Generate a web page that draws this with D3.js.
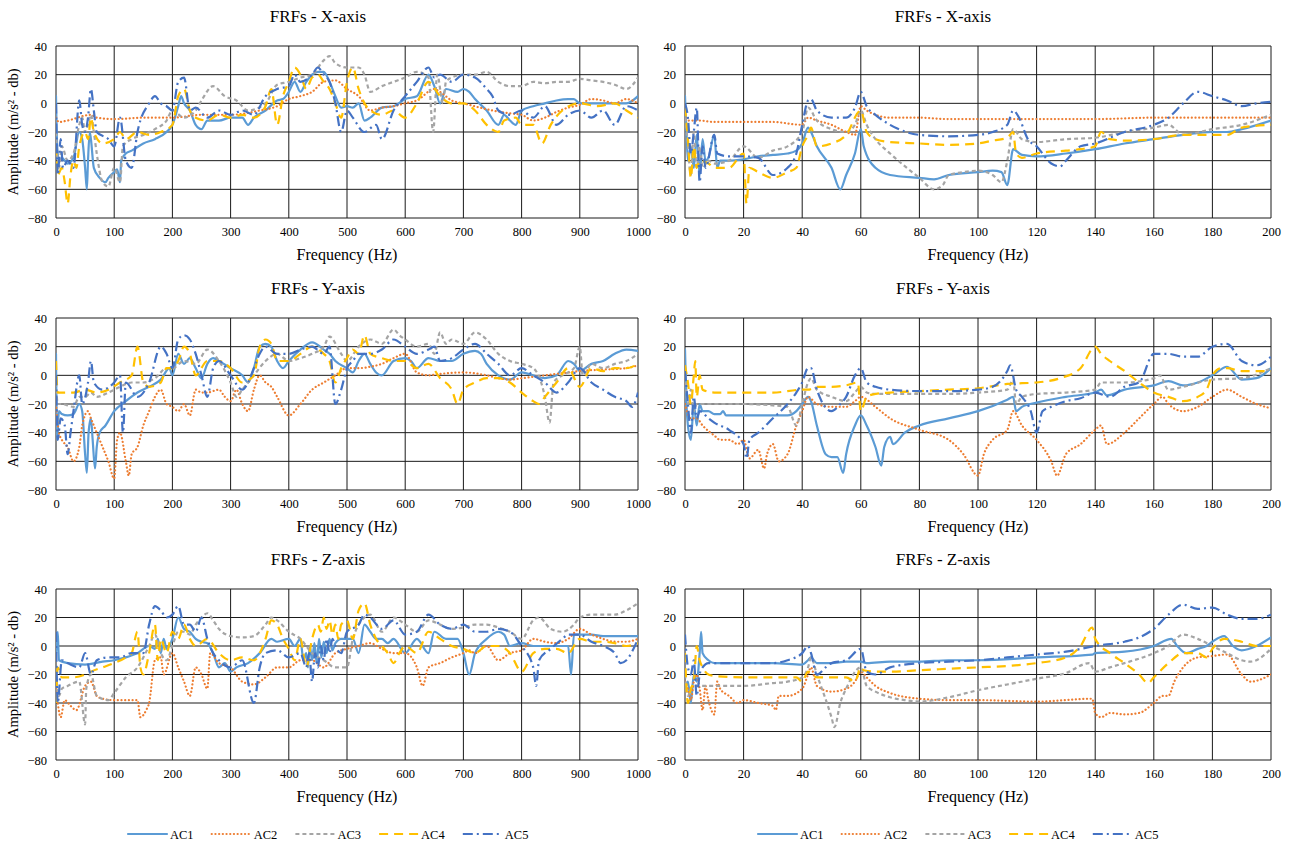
<!DOCTYPE html>
<html><head><meta charset="utf-8">
<script src="https://cdn.jsdelivr.net/npm/d3@7"></script>
<style>body{margin:0;background:#fff}svg{display:block}text{font-family:"Liberation Serif","Times New Roman",serif;fill:#000}</style>
</head><body><svg id="c" width="1291" height="845"></svg>
<script>
const seriesNames = ["AC1","AC2","AC3","AC4","AC5"];
const panelTitles = ["FRFs - X-axis","FRFs - X-axis","FRFs - Y-axis","FRFs - Y-axis","FRFs - Z-axis","FRFs - Z-axis"];
const yTicks = [-80,-60,-40,-20,0,20,40];
const xTicksFull = [0,100,200,300,400,500,600,700,800,900,1000];
const xTicksLow = [0,20,40,60,80,100,120,140,160,180,200];

// ---- X-axis, 0-1000 Hz ----
const xFull_AC1 = [[0,5],[2,-30],[5,-40],[10,-38],[20,-42],[30,-38],[40,-20],[45,-25],[50,-45],[53,-60],[55,-40],[58,-20],[60,-25],[65,-45],[75,-52],[85,-55],[90,-52],[100,-48],[105,-46],[110,-55],[112,-40],[120,-35],[130,-33],[150,-28],[170,-25],[190,-20],[200,-15],[210,-2],[215,5],[220,0],[230,-5],[240,-15],[250,-18],[260,-12],[280,-12],[300,-10],[320,-10],[330,-15],[340,-10],[360,-5],[380,2],[390,3],[400,8],[410,15],[420,8],[430,15],[440,20],[450,22],[460,22],[470,15],[480,5],[490,-3],[500,-2],[510,-3],[520,0],[530,-12],[540,-10],[560,-3],[580,-2],[600,3],[620,5],[640,20],[650,12],[660,0],[670,10],[690,8],[700,10],[710,8],[720,3],[740,-5],[760,-15],[770,-8],[780,-12],[790,-15],[800,-5],[820,-2],[840,0],[860,2],[880,3],[890,3],[900,0],[920,0],[940,0],[960,0],[980,0],[1000,5]];
const xFull_AC2 = [[0,-10],[5,-13],[20,-12],[60,-8],[70,-10],[100,-11],[150,-10],[200,-10],[250,-8],[300,-8],[350,-5],[380,-2],[400,3],[420,5],[440,8],[460,15],[480,16],[500,10],[520,5],[540,-5],[560,-3],[580,-2],[600,0],[620,2],[650,10],[660,8],[680,2],[700,0],[750,-5],[780,-7],[800,-8],[820,-12],[840,-10],[860,-6],[880,-3],[900,-1],[920,3],[940,2],[960,0],[980,3],[1000,0]];
const xFull_AC3 = [[0,-20],[5,-45],[10,-30],[20,-40],[30,-35],[40,-15],[45,-10],[50,-20],[55,-15],[60,-8],[65,-20],[70,-35],[80,-55],[90,-58],[100,-45],[110,-55],[115,-30],[130,-25],[150,-22],[170,-18],[190,-12],[200,-5],[220,-10],[240,-5],[250,2],[270,12],[290,5],[310,2],[330,-5],[360,0],[380,13],[400,15],[420,18],[440,20],[460,30],[470,33],[480,28],[500,25],[520,25],[530,20],[540,8],[560,12],[580,15],[600,18],[620,22],[640,18],[648,-20],[655,20],[665,0],[670,15],[680,18],[700,20],[720,20],[740,22],[760,15],[780,12],[800,12],[820,15],[840,14],[860,15],[880,15],[900,17],[920,16],[940,15],[960,13],[980,10],[1000,18]];
const xFull_AC4 = [[0,-30],[3,-50],[10,-45],[15,-55],[20,-70],[25,-50],[30,-40],[35,-45],[40,-30],[50,-20],[55,-25],[60,-10],[65,-20],[80,-28],[100,-25],[110,-20],[120,-25],[140,-20],[160,-22],[180,-20],[200,-15],[210,5],[220,10],[230,-5],[240,-10],[260,-12],[280,-8],[300,-10],[320,-8],[340,-10],[360,-2],[370,10],[380,-15],[390,5],[400,15],[410,25],[420,20],[430,10],[440,18],[450,20],[460,15],[470,10],[480,0],[490,-10],[500,15],[510,25],[520,10],[540,-5],[560,-8],[580,-5],[600,-10],[620,0],[640,15],[660,5],[680,0],[700,0],[720,-5],[740,-15],[760,-20],[770,-12],[790,-10],[800,-15],[820,-15],[835,-28],[850,-15],[870,-5],[900,0],[930,-2],[960,0],[980,-5],[1000,-10]];
const xFull_AC5 = [[0,0],[3,-50],[8,-25],[12,-45],[20,-40],[30,-45],[40,2],[45,-15],[50,-20],[55,-10],[60,10],[65,-5],[70,-20],[90,-25],[100,-30],[110,-10],[120,-40],[130,-45],[140,-20],[160,0],[170,5],[180,0],[190,-2],[200,-5],[210,15],[220,18],[230,-5],[240,-3],[260,-10],[280,-5],[300,-8],[320,-5],[340,-8],[360,5],[380,10],[400,12],[410,20],[420,15],[440,20],[450,25],[460,20],[470,15],[480,0],[490,-20],[500,-5],[510,-10],[530,-20],[550,-15],[560,-25],[580,-5],[600,5],[620,15],[640,25],[650,18],[660,20],[680,15],[700,20],[720,18],[740,10],[750,5],[760,-5],[780,-8],[800,-5],[820,-10],[840,-2],[860,-15],[880,-8],[900,-5],[920,-10],[940,-5],[960,-15],[980,-2],[1000,-5]];

// ---- X-axis, 0-200 Hz ----
const xLow_AC1 = [[0,5],[0.5,-20],[1,-40],[2,-30],[3,-45],[4,-22],[5,-50],[6,-25],[7,-40],[8,-38],[10,-22],[11,-45],[12,-40],[15,-40],[20,-39],[25,-37],[30,-36],[35,-35],[38,-33],[40,-28],[42,-17],[43,-20],[45,-30],[50,-45],[53,-60],[55,-50],[58,-35],[60,-18],[61,-30],[65,-45],[70,-50],[80,-52],[85,-53],[90,-50],[100,-48],[105,-47],[108,-48],[110,-57],[112,-32],[115,-36],[120,-37],[130,-35],[140,-32],[150,-28],[160,-25],[170,-22],[180,-20],[185,-20],[190,-18],[200,-12]];
const xLow_AC2 = [[0,-8],[1,-12],[5,-12],[10,-13],[15,-13],[20,-13],[30,-13],[40,-15],[42,-10],[45,-12],[50,-15],[55,-20],[58,-22],[60,-2],[62,-5],[65,-8],[70,-10],[80,-10],[90,-11],[100,-11],[110,-11],[120,-11],[140,-11],[160,-10],[180,-10],[200,-10]];
const xLow_AC3 = [[0,-5],[1,-30],[2,-50],[3,-20],[4,-45],[5,-30],[6,-45],[8,-40],[10,-42],[15,-40],[20,-30],[25,-38],[30,-33],[35,-30],[40,-20],[42,-3],[45,-12],[50,-18],[55,-20],[58,-15],[60,-5],[62,-15],[65,-25],[70,-35],[80,-52],[85,-60],[88,-57],[90,-50],[95,-48],[100,-47],[105,-50],[108,-55],[110,-40],[112,-18],[115,-25],[120,-27],[130,-25],[140,-24],[150,-20],[160,-17],[165,-15],[170,-22],[180,-18],[190,-15],[200,-8]];
const xLow_AC4 = [[0,-3],[1,-25],[2,-52],[3,-30],[4,-45],[5,-40],[8,-42],[10,-45],[15,-45],[20,-35],[21,-70],[22,-45],[25,-48],[30,-52],[35,-48],[38,-45],[40,-30],[42,-22],[43,-17],[45,-30],[50,-28],[55,-22],[60,-5],[62,-20],[65,-25],[70,-27],[80,-28],[90,-29],[100,-28],[105,-26],[110,-24],[112,-20],[113,-35],[115,-38],[120,-35],[130,-33],[135,-32],[140,-30],[142,-20],[145,-25],[150,-26],[160,-25],[170,-22],[180,-22],[185,-22],[190,-17],[200,-15]];
const xLow_AC5 = [[0,0],[1,-10],[2,-35],[3,-20],[4,-3],[5,-55],[6,-30],[7,-45],[10,-22],[11,-35],[15,-37],[20,-37],[25,-38],[30,-50],[35,-45],[38,-35],[40,-15],[42,2],[43,3],[45,-5],[50,-10],[55,-10],[58,-3],[60,8],[62,-2],[65,-8],[70,-15],[80,-22],[90,-23],[100,-22],[105,-20],[110,-15],[112,-5],[114,-10],[117,-25],[120,-30],[125,-42],[128,-44],[130,-40],[135,-30],[140,-28],[150,-20],[160,-15],[165,-10],[170,0],[175,8],[180,5],[185,2],[190,-2],[195,0],[200,1]];

// ---- Y-axis, 0-1000 Hz ----
const yFull_AC1 = [[0,15],[2,-45],[5,-25],[10,-27],[20,-28],[30,-27],[40,-20],[45,-25],[50,-55],[53,-68],[56,-40],[60,-30],[63,-45],[67,-65],[70,-50],[75,-40],[85,-35],[100,-25],[120,-18],[140,-12],[160,-8],[180,-3],[195,5],[200,0],[210,15],[220,8],[230,12],[240,5],[250,-2],[260,8],[270,12],[280,10],[300,5],[320,0],[330,-5],[340,5],[350,20],[360,22],[370,20],[380,10],[390,5],[400,10],[420,18],[440,23],[460,18],[470,15],[480,10],[500,5],[510,2],[520,10],[530,15],[540,8],[550,2],[560,0],[580,10],[600,12],[610,10],[620,5],[640,12],[660,10],[680,10],[700,15],[720,17],[730,15],[740,8],[760,0],[780,-3],[800,2],[820,0],[840,-2],[860,0],[880,10],[890,8],[900,3],[920,8],[940,10],[960,15],[980,18],[1000,17]];
const yFull_AC2 = [[0,-20],[5,-40],[10,-45],[20,-50],[30,-60],[40,-50],[45,-35],[55,-25],[60,-30],[70,-40],[80,-50],[90,-60],[100,-72],[105,-45],[110,-40],[120,-60],[125,-70],[130,-55],[140,-50],[150,-35],[160,-25],[170,-15],[180,-10],[190,-20],[200,-22],[210,-25],[220,-20],[230,-28],[240,-10],[250,-12],[260,-12],[280,-10],[290,-15],[300,-18],[310,-10],[320,-20],[330,-25],[340,-10],[350,0],[360,-5],[370,-8],[380,-15],[400,-28],[420,-20],[440,-10],[460,-5],[480,0],[500,5],[520,5],[540,6],[560,8],[580,12],[600,15],[620,2],[640,0],[660,1],[700,2],[740,0],[760,-2],[780,-3],[800,-2],[840,0],[880,2],[900,3],[940,4],[980,5],[1000,7]];
const yFull_AC3 = [[0,-5],[3,-20],[10,-20],[30,-22],[40,-15],[50,-15],[60,-12],[70,-15],[90,-12],[110,-8],[130,-5],[150,-5],[170,-2],[190,5],[200,5],[220,10],[240,8],[260,18],[280,10],[300,-5],[310,-15],[320,-10],[340,0],[360,10],[380,15],[400,10],[420,12],[440,15],[460,20],[470,27],[490,15],[500,10],[520,20],[540,25],[560,22],[580,32],[590,28],[600,25],[620,20],[640,22],[650,15],[660,30],[670,22],[680,25],[700,22],[720,30],[740,25],[760,15],[780,10],[800,8],[820,5],[840,-15],[848,-33],[855,-5],[870,0],[890,5],[900,20],[905,0],[920,8],[940,5],[960,8],[980,10],[1000,15]];
const yFull_AC4 = [[0,10],[3,-12],[10,-12],[30,-12],[50,-10],[70,-12],[90,-10],[110,-5],[130,0],[140,20],[150,-5],[160,-8],[180,-5],[190,5],[200,5],[210,10],[220,20],[230,15],[240,0],[260,10],[280,10],[300,5],[320,-5],[340,0],[350,20],[360,25],[370,22],[380,10],[400,10],[420,15],[440,20],[460,15],[470,10],[480,-5],[490,5],[500,12],[510,18],[520,15],[530,28],[540,15],[560,12],[580,10],[600,10],[620,5],[640,8],[660,-2],[680,-10],[690,-20],[700,-10],[720,-5],[740,-2],[760,-2],[780,-5],[800,-12],[820,-18],[830,-20],[840,-15],[860,-5],[880,5],[900,-8],[920,5],[940,3],[960,5],[980,5],[1000,8]];
const yFull_AC5 = [[0,0],[3,-45],[8,-30],[15,-35],[20,-55],[25,-40],[30,-25],[40,0],[45,-20],[55,-5],[60,10],[65,-5],[80,-10],[100,-5],[110,0],[115,-40],[120,-5],[140,-15],[160,-5],[180,20],[190,15],[200,5],[210,25],[220,28],[230,25],[240,15],[250,0],[260,-15],[270,5],[280,10],[300,0],[320,-10],[330,-5],[340,5],[350,15],[360,20],[380,15],[400,15],[420,18],[440,20],[460,15],[470,20],[480,-20],[490,-10],[500,5],[510,10],[520,15],[540,15],[560,18],[580,25],[600,20],[620,15],[640,18],[650,20],[660,10],[680,12],[700,18],[720,22],[740,15],[760,8],[780,0],[800,5],[820,0],[840,-5],[860,-12],[880,-5],[900,5],[920,-5],[940,-10],[960,-15],[980,-18],[990,-22],[1000,-12]];

// ---- Y-axis, 0-200 Hz ----
const yLow_AC1 = [[0,18],[0.5,-20],[1,-35],[2,-45],[3,-20],[4,-35],[5,-20],[6,-25],[8,-25],[10,-27],[12,-27],[13,-25],[14,-28],[20,-28],[30,-28],[35,-28],[38,-25],[40,-20],[42,-15],[43,-18],[45,-35],[48,-55],[50,-57],[52,-57],[54,-68],[55,-55],[58,-35],[60,-28],[62,-35],[65,-50],[67,-63],[68,-50],[70,-43],[71,-48],[75,-40],[80,-35],[90,-30],[100,-25],[110,-17],[112,-15],[113,-25],[115,-22],[120,-19],[130,-15],[140,-12],[142,-10],[144,-14],[150,-10],[160,-7],[165,-4],[170,-7],[175,-5],[180,0],[185,6],[190,-3],[195,-2],[200,5]];
const yLow_AC2 = [[0,-20],[2,-30],[4,-30],[6,-35],[10,-42],[12,-45],[15,-45],[18,-48],[20,-45],[22,-58],[25,-52],[27,-65],[28,-55],[30,-48],[32,-60],[35,-55],[38,-35],[40,-25],[42,-15],[45,-20],[50,-22],[55,-22],[58,-18],[60,-15],[65,-22],[70,-30],[80,-38],[90,-45],[95,-55],[100,-70],[102,-55],[105,-45],[110,-38],[112,-25],[115,-35],[120,-45],[125,-60],[127,-70],[130,-55],[135,-48],[140,-38],[142,-35],[144,-48],[150,-40],[155,-30],[160,-20],[163,-15],[165,-20],[170,-25],[175,-22],[180,-15],[185,-10],[190,-15],[195,-20],[200,-23]];
const yLow_AC3 = [[0,5],[1,-20],[2,-10],[3,-25],[4,-20],[6,-20],[10,-20],[20,-20],[30,-21],[35,-22],[38,-35],[40,-20],[42,-5],[43,-2],[45,-10],[50,-15],[55,-18],[58,-12],[60,-8],[62,-12],[65,-13],[70,-13],[80,-13],[90,-13],[100,-12],[110,-10],[112,-3],[113,-20],[115,-15],[120,-13],[130,-12],[140,-10],[142,-5],[150,-5],[160,-2],[162,0],[165,-10],[170,-8],[180,-3],[190,-2],[200,5]];
const yLow_AC4 = [[0,7],[1,-5],[2,-20],[3,0],[3.5,10],[4,-15],[5,0],[6,-10],[10,-12],[20,-12],[30,-12],[40,-10],[42,-10],[45,-8],[50,-8],[55,-7],[59,-5],[60,-25],[62,-15],[65,-13],[70,-12],[80,-11],[90,-10],[100,-9],[110,-6],[120,-5],[128,-2],[135,5],[140,20],[142,15],[145,10],[150,3],[155,-5],[160,-12],[165,-15],[170,-18],[175,-15],[178,-10],[180,0],[183,5],[185,5],[190,3],[200,3]];
const yLow_AC5 = [[0,3],[1,-20],[2,-40],[3,-15],[4,-30],[5,-25],[8,-30],[10,-33],[15,-38],[20,-48],[21,-58],[22,-45],[25,-40],[30,-30],[35,-20],[38,-12],[40,-5],[42,5],[43,5],[45,-10],[50,-25],[53,-20],[55,-15],[58,0],[60,5],[62,-5],[65,-8],[70,-10],[80,-11],[90,-11],[100,-10],[105,-8],[110,3],[111,7],[113,-10],[115,-15],[118,-25],[120,-40],[122,-25],[125,-22],[130,-18],[135,-16],[140,-12],[145,-15],[150,-8],[155,-5],[160,15],[165,15],[170,13],[175,13],[180,20],[185,22],[190,10],[195,7],[200,13]];

// ---- Z-axis, 0-1000 Hz ----
const zFull_AC1 = [[0,-5],[3,10],[5,-10],[20,-12],[50,-13],[80,-11],[100,-10],[120,-8],[140,-5],[160,0],[170,-2],[175,5],[180,-5],[185,5],[190,-2],[200,5],[210,20],[220,12],[230,10],[240,5],[250,3],[260,2],[270,-5],[280,-15],[290,-12],[300,-18],[310,-15],[330,-12],[350,-5],[370,5],[380,3],[400,5],[410,0],[420,5],[425,-10],[430,-5],[433,-15],[436,0],[440,-10],[444,2],[448,-12],[452,5],[456,-8],[460,3],[465,-5],[470,5],[475,-3],[480,2],[490,5],[500,5],[510,5],[520,-5],[530,15],[540,10],[550,5],[560,5],[570,2],[580,5],[600,-5],[620,5],[640,-5],[650,10],[670,5],[690,5],[700,-5],[710,-20],[720,-5],[740,5],[760,10],[770,8],[780,0],[800,2],[820,0],[840,0],[860,0],[880,0],[885,-20],[890,8],[900,8],[920,8],[940,7],[960,7],[980,7],[1000,7]];
const zFull_AC2 = [[0,-30],[3,-40],[8,-50],[15,-38],[25,-42],[35,-45],[50,-28],[60,-25],[70,-35],[80,-37],[100,-38],[120,-38],[140,-38],[145,-50],[155,-45],[160,-40],[170,-10],[180,-8],[185,-20],[200,-5],[210,-15],[220,-25],[230,-35],[240,-15],[250,-20],[260,-30],[265,-5],[280,-12],[300,-15],[320,-25],[340,-27],[360,-22],[380,-15],[400,-15],[420,-10],[440,-10],[460,-15],[480,-5],[500,-2],[520,0],[540,2],[560,-2],[580,-5],[600,-5],[620,-15],[630,-28],[640,-15],[660,-12],[680,-8],[700,-5],[710,-3],[720,-5],[740,0],[760,-10],[780,-5],[800,-3],[820,5],[840,3],[860,2],[880,5],[900,12],[920,8],[940,5],[960,3],[980,3],[1000,5]];
const zFull_AC3 = [[0,-20],[5,-35],[10,-30],[20,-28],[40,-25],[50,-55],[52,-30],[60,-20],[70,-35],[90,-38],[100,-33],[120,-22],[140,-15],[160,0],[170,8],[180,-5],[190,-10],[200,0],[210,10],[220,10],[230,8],[240,15],[250,20],[260,23],[270,18],[280,12],[300,7],[320,6],[340,7],[360,15],[370,20],[380,18],[400,10],[420,5],[440,-5],[460,-10],[480,-15],[500,-15],[510,5],[520,15],[530,20],[540,22],[560,10],[580,20],[600,15],[620,10],[640,18],[660,15],[680,12],[700,13],[720,15],[740,15],[760,13],[780,10],[800,5],[820,18],[830,20],[850,12],[870,10],[890,15],[900,20],[920,22],[940,22],[960,22],[980,25],[1000,30]];
const zFull_AC4 = [[0,-40],[3,-15],[10,-22],[30,-22],[50,-20],[60,-18],[80,-15],[100,-12],[120,-8],[130,-5],[140,10],[145,-15],[150,-20],[160,-5],[170,15],[175,-10],[180,5],[190,-5],[200,10],[210,5],[220,15],[230,5],[240,0],[260,5],[280,-5],[300,-10],[320,-8],[340,-10],[360,5],[370,18],[380,15],[390,5],[400,-2],[410,-10],[420,5],[430,-15],[440,5],[450,15],[455,10],[460,20],[465,12],[470,18],[475,8],[480,15],[485,5],[490,15],[500,18],[510,5],[520,25],[530,30],[540,15],[550,5],[560,0],[570,-5],[580,-12],[590,-5],[600,0],[620,-5],[640,10],[660,5],[680,0],[700,-2],[720,-5],[740,0],[760,0],[780,-5],[800,-18],[820,-5],[840,-2],[860,-2],[880,-5],[900,5],[920,3],[940,3],[960,2],[980,0],[1000,2]];
const zFull_AC5 = [[0,10],[3,-40],[10,-10],[20,-12],[40,-15],[50,-5],[60,-20],[70,-10],[90,-8],[110,-8],[130,-5],[150,-5],[160,15],[170,28],[180,25],[190,20],[200,22],[210,28],[220,15],[230,15],[240,10],[250,20],[260,5],[270,-5],[280,-10],[300,-15],[320,-10],[340,-40],[350,-15],[360,-5],[380,-3],[400,-8],[420,-5],[430,-15],[435,-5],[440,-25],[445,-5],[450,-15],[455,0],[460,-10],[465,5],[470,-5],[475,5],[480,0],[490,-5],[500,10],[520,15],[530,22],[540,20],[560,12],[580,18],[600,8],[620,10],[640,22],[660,15],[680,12],[700,15],[720,10],[740,10],[760,12],[780,10],[800,0],[820,-15],[825,-28],[830,-10],[850,-2],[870,5],[880,8],[900,8],[920,3],[940,0],[960,-5],[970,-12],[980,-10],[1000,5]];

// ---- Z-axis, 0-200 Hz ----
const zLow_AC1 = [[0,-30],[1,-25],[2,-40],[3,-20],[4,-25],[5,-5],[5.5,10],[6,-5],[8,-10],[10,-12],[20,-12],[30,-12],[40,-13],[42,-10],[43,-8],[45,-12],[50,-12],[55,-11],[60,-11],[62,-12],[70,-11],[80,-11],[90,-10],[100,-10],[120,-8],[139,-6],[140,-5],[150,-4],[160,0],[166,5],[168,0],[171,-5],[175,-2],[178,0],[180,3],[184,7],[187,0],[190,-3],[195,0],[200,6]];
const zLow_AC2 = [[0,-25],[1,-30],[2,-38],[3,-25],[4,-20],[5,-30],[6,-45],[7,-28],[8,-38],[10,-48],[11,-25],[12,-30],[15,-35],[18,-40],[20,-38],[25,-40],[30,-42],[31,-45],[32,-35],[35,-35],[40,-30],[42,-20],[43,-15],[45,-28],[50,-32],[55,-30],[58,-25],[60,-18],[62,-22],[65,-28],[70,-33],[80,-37],[90,-38],[100,-38],[120,-39],[139,-37],[140,-47],[142,-50],[145,-47],[150,-48],[155,-47],[160,-40],[163,-35],[165,-35],[167,-25],[170,-15],[175,-8],[180,-7],[185,-6],[190,-20],[193,-25],[200,-20]];
const zLow_AC3 = [[0,-20],[1,-35],[2,-30],[3,-28],[5,-28],[10,-28],[20,-28],[30,-26],[35,-25],[40,-22],[42,-15],[43,-8],[45,-20],[50,-50],[51,-57],[53,-40],[55,-30],[60,-15],[62,-28],[65,-32],[70,-36],[75,-38],[80,-39],[90,-36],[100,-31],[110,-27],[120,-23],[130,-19],[138,-12],[140,-18],[145,-15],[150,-12],[160,-5],[165,0],[170,8],[175,5],[180,0],[185,-5],[190,-10],[193,-11],[200,-2]];
const zLow_AC4 = [[0,-5],[1,-40],[2,-30],[3,-25],[4,0],[5,-10],[6,-15],[8,-20],[10,-21],[20,-22],[30,-22],[38,-22],[40,-25],[42,-18],[45,-22],[50,-22],[55,-22],[58,-25],[60,-15],[61,-17],[65,-18],[70,-18],[80,-17],[90,-16],[100,-15],[110,-14],[120,-12],[130,-8],[135,0],[139,13],[140,5],[145,-5],[150,-12],[155,-20],[158,-26],[160,-22],[165,-12],[170,-5],[175,-5],[178,-8],[180,-2],[184,5],[190,3],[195,0],[200,0]];
const zLow_AC5 = [[0,8],[1,-15],[2,-20],[3,-10],[4,-35],[5,-20],[6,-15],[8,-12],[10,-12],[20,-12],[30,-12],[35,-10],[40,-5],[42,0],[43,-5],[45,-20],[48,-15],[50,-12],[55,-10],[60,-2],[62,-18],[65,-20],[70,-15],[80,-12],[90,-11],[100,-10],[110,-8],[120,-6],[130,-4],[140,0],[150,3],[155,6],[160,12],[165,22],[170,29],[175,26],[180,27],[185,22],[190,19],[195,19],[200,22]];

const panelData = [
  [xFull_AC1,xFull_AC2,xFull_AC3,xFull_AC4,xFull_AC5],
  [xLow_AC1,xLow_AC2,xLow_AC3,xLow_AC4,xLow_AC5],
  [yFull_AC1,yFull_AC2,yFull_AC3,yFull_AC4,yFull_AC5],
  [yLow_AC1,yLow_AC2,yLow_AC3,yLow_AC4,yLow_AC5],
  [zFull_AC1,zFull_AC2,zFull_AC3,zFull_AC4,zFull_AC5],
  [zLow_AC1,zLow_AC2,zLow_AC3,zLow_AC4,zLow_AC5]
];

const FONT = '"Liberation Serif","Times New Roman",serif';
const colors = ["#5B9BD5","#ED7D31","#A5A5A5","#FFC000","#4472C4"];
const dashes = ["none","0.1,3.6","4,3","9,6","10,4,2,4"];
const caps = ["round","round","butt","butt","butt"];

const svg = d3.select("#c").style("font-family",FONT);
const cols = [{x0:56,x1:638,titleX:318,dom:[0,1000],ticks:xTicksFull,ylab:true},{x0:685,x1:1271,titleX:943,dom:[0,200],ticks:xTicksLow,ylab:false}];
const rows = [{y0:46,y1:218},{y0:318,y1:490},{y0:589,y1:760}];

panelData.forEach((series,i)=>{
  const c = cols[i%2], r = rows[Math.floor(i/2)];
  const x = d3.scaleLinear().domain(c.dom).range([c.x0,c.x1]);
  const y = d3.scaleLinear().domain([-80,40]).range([r.y1,r.y0]);
  const g = svg.append("g");
  g.append("g").selectAll("line").data(yTicks).join("line")
    .attr("x1",c.x0).attr("x2",c.x1).attr("y1",d=>y(d)).attr("y2",d=>y(d))
    .attr("stroke","#1a1a1a").attr("stroke-width",1);
  g.append("g").selectAll("line").data(c.ticks).join("line")
    .attr("x1",d=>x(d)).attr("x2",d=>x(d)).attr("y1",r.y0).attr("y2",r.y1)
    .attr("stroke","#1a1a1a").attr("stroke-width",1);
  const ax = g.append("g").attr("transform",`translate(0,${r.y1})`)
    .call(d3.axisBottom(x).tickValues(c.ticks).tickFormat(d3.format("d")).tickSize(0).tickPadding(9));
  ax.select(".domain").remove();
  ax.attr("font-family",FONT);
  ax.selectAll("text").attr("font-size",12.5).style("font-family",FONT);
  const ay = g.append("g").attr("transform",`translate(${c.x0},0)`)
    .call(d3.axisLeft(y).tickValues(yTicks).tickFormat(d3.format("d")).tickSize(0).tickPadding(9));
  ay.select(".domain").remove();
  ay.attr("font-family",FONT);
  ay.selectAll("text").attr("font-size",12.5).style("font-family",FONT);
  const clipId = "clip"+i;
  svg.append("clipPath").attr("id",clipId).append("rect")
    .attr("x",c.x0).attr("y",r.y0-2).attr("width",c.x1-c.x0).attr("height",r.y1-r.y0+4);
  const line = d3.line().x(d=>x(d[0])).y(d=>y(d[1])).curve(d3.curveMonotoneX);
  const lg = g.append("g").attr("clip-path",`url(#${clipId})`);
  series.forEach((s,k)=>{
    lg.append("path").datum(s).attr("d",line).attr("fill","none")
      .attr("stroke",colors[k]).attr("stroke-width",2.2)
      .attr("stroke-dasharray",dashes[k]).attr("stroke-linecap",caps[k]).attr("stroke-linejoin","round");
  });
  g.append("text").attr("x",c.titleX).attr("y",r.y0-24).attr("text-anchor","middle")
    .attr("font-size",17).style("font-family",FONT).text(panelTitles[i]);
  g.append("text").attr("x",(c.x0+c.x1)/2).attr("y",r.y1+42).attr("text-anchor","middle")
    .attr("font-size",16).style("font-family",FONT).text("Frequency (Hz)");
  if(c.ylab){
    g.append("text").attr("transform",`translate(18,${(r.y0+r.y1)/2}) rotate(-90)`)
      .attr("text-anchor","middle").attr("font-size",14.5).style("font-family",FONT).text("Amplitude (m/s\u00B2 - db)");
  }
});

const legendStarts = [128,758];
legendStarts.forEach(lx=>{
  const lg = svg.append("g");
  seriesNames.forEach((n,k)=>{
    const gx = lx + k*83.7;
    lg.append("line").attr("x1",gx).attr("x2",gx+39).attr("y1",834).attr("y2",834)
      .attr("stroke",colors[k]).attr("stroke-width",2.2).attr("stroke-dasharray",dashes[k]).attr("stroke-linecap",caps[k]);
    lg.append("text").attr("x",gx+42).attr("y",838.5).attr("font-size",12.5).style("font-family",FONT).text(n);
  });
});
</script></body></html>
